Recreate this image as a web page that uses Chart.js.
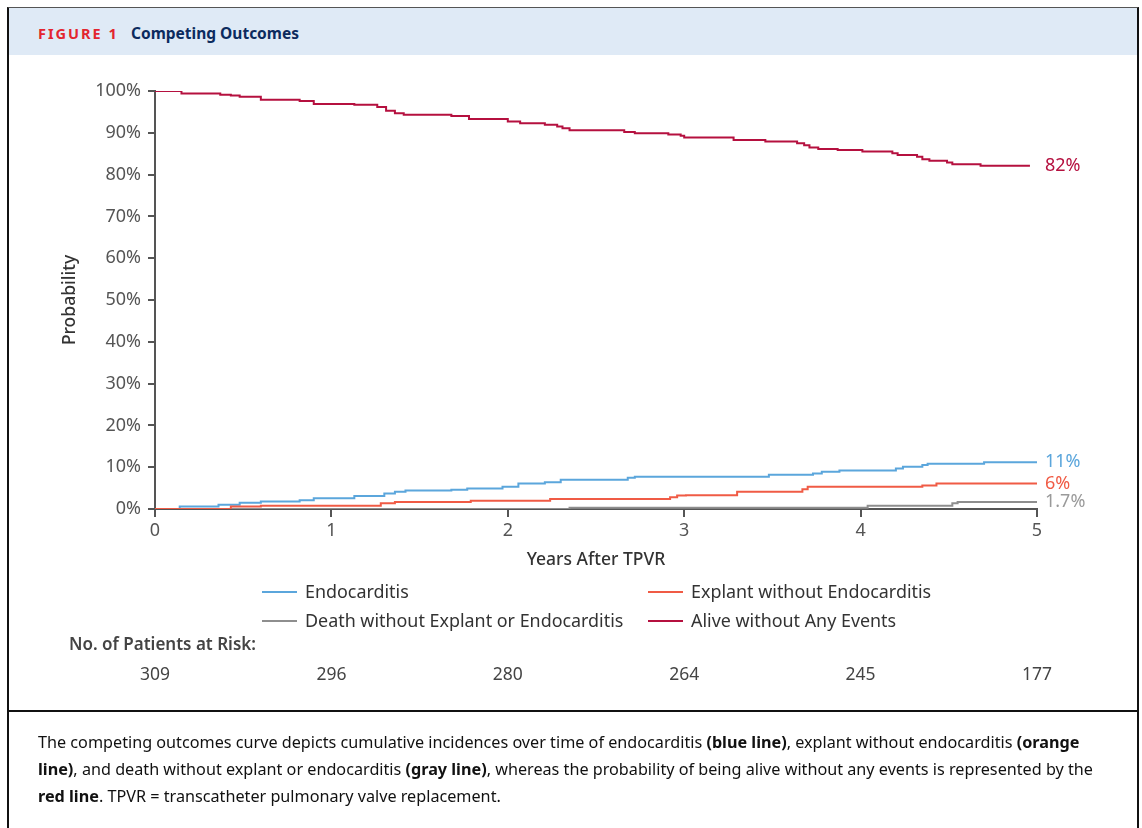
<!DOCTYPE html>
<html>
<head>
<meta charset="utf-8">
<script src="https://cdn.jsdelivr.net/npm/chart.js@4"></script>
<style>
html,body{margin:0;padding:0;background:#fff;width:1142px;height:828px;overflow:hidden;font-family:"Noto Sans",sans-serif;}
#frame{position:absolute;left:7px;top:7px;width:1132px;height:900px;border-left:2px solid #111;border-right:2px solid #111;border-top:1px solid #555;box-sizing:border-box;}
#header{position:absolute;left:9px;top:8px;width:1128px;height:47px;background:#dfeaf6;}
#header .fig{position:absolute;left:29px;top:15px;font-size:14.5px;font-weight:700;color:#e3252f;letter-spacing:2px;}
#header .ttl{position:absolute;left:122px;top:14px;font-size:15.5px;font-weight:700;color:#0c2b5e;}
#sep{position:absolute;left:8px;top:710px;width:1130px;height:2px;background:#111;}
#caption{position:absolute;left:38px;top:729px;width:1070px;font-size:16.2px;line-height:27px;color:#111;}
#caption b{font-weight:700;}
canvas#c{position:absolute;left:0;top:0;}
.leg{position:absolute;font-size:17.9px;color:#333;white-space:nowrap;}
.leg i{position:absolute;left:0;top:12px;width:35px;height:2px;}
.leg span{position:absolute;left:43px;top:0;}
#risk{position:absolute;left:69px;top:632px;font-size:17px;font-weight:600;color:#444;}
</style>
</head>
<body>
<div id="frame"></div>
<div id="header"><span class="fig">FIGURE 1</span><span class="ttl">Competing Outcomes</span></div>
<canvas id="c" width="1142" height="828"></canvas>
<div id="legend"></div>
<div id="risk">No. of Patients at Risk:</div>
<div id="sep"></div>
<div id="caption">The competing outcomes curve depicts cumulative incidences over time of endocarditis <b>(blue line)</b>, explant without endocarditis <b>(orange line)</b>, and death without explant or endocarditis <b>(gray line)</b>, whereas the probability of being alive without any events is represented by the <b>red line</b>. TPVR = transcatheter pulmonary valve replacement.</div>
<script>
// ---- data ----
const seriesNames = ["Endocarditis", "Explant without Endocarditis", "Death without Explant or Endocarditis", "Alive without Any Events"];

const endoTimes  = [0, 0.14, 0.36, 0.48, 0.6, 0.82, 0.9, 1.13, 1.3, 1.36, 1.42, 1.68, 1.77, 1.97, 2.06, 2.21, 2.3, 2.68, 2.72, 3.48, 3.73, 3.78, 3.88, 4.2, 4.24, 4.35, 4.38, 4.7, 5];
const endoValues = [0, 0.6, 1.0, 1.5, 1.8, 2.1, 2.6, 3.1, 3.7, 4.1, 4.4, 4.6, 4.9, 5.3, 6.1, 6.4, 7.0, 7.5, 7.7, 8.2, 8.5, 8.9, 9.2, 9.7, 10.1, 10.5, 10.8, 11.2, 11.2];

const explTimes  = [0, 0.43, 0.6, 1.28, 1.36, 1.79, 2.24, 2.92, 2.96, 3.01, 3.3, 3.67, 3.7, 4.35, 4.43, 5];
const explValues = [0, 0.6, 0.8, 1.4, 1.7, 2.0, 2.4, 2.8, 3.2, 3.3, 4.1, 4.7, 5.3, 5.6, 6.1, 6.1];

const deathTimes  = [0, 2.35, 4.04, 4.52, 4.55, 5];
const deathValues = [0, 0.3, 0.8, 1.4, 1.7, 1.7];

const aliveTimes  = [0, 0.15, 0.37, 0.43, 0.48, 0.6, 0.82, 0.9, 1.13, 1.26, 1.31, 1.36, 1.41, 1.68, 1.78, 2.0, 2.07, 2.21, 2.28, 2.31, 2.35, 2.66, 2.72, 2.91, 2.98, 3.0, 3.28, 3.46, 3.64, 3.68, 3.71, 3.76, 3.87, 4.01, 4.18, 4.21, 4.32, 4.35, 4.39, 4.49, 4.52, 4.68, 4.96];
const aliveValues = [100, 99.4, 99.1, 98.9, 98.6, 97.9, 97.6, 96.9, 96.7, 96.2, 95.3, 94.7, 94.3, 94.0, 93.3, 92.7, 92.3, 91.9, 91.5, 91.1, 90.6, 90.2, 89.9, 89.6, 89.3, 88.9, 88.3, 87.9, 87.5, 87.0, 86.5, 86.1, 85.9, 85.5, 85.1, 84.7, 84.3, 83.7, 83.3, 82.9, 82.5, 82.1, 82.1];

const endLabels = ["11%", "6%", "1.7%", "82%"];
const yTickValues = [0, 10, 20, 30, 40, 50, 60, 70, 80, 90, 100];
const riskYears  = [0, 1, 2, 3, 4, 5];
const riskCounts = [309, 296, 280, 264, 245, 177];

// ---- styles ----
const colors = ["#5ba6dc", "#f05b45", "#8e8e8e", "#b5103f"];
const labelColors = ["#5ba6dc", "#f05b45", "#9a9a9a", "#b5103f"];
const FONT = '"Noto Sans", sans-serif';

function pts(t, v){ return t.map((x,i)=>({x:x, y:v[i]})); }
const allSeries = [pts(endoTimes,endoValues), pts(explTimes,explValues), pts(deathTimes,deathValues), pts(aliveTimes,aliveValues)];

// HTML legend
const legendPos = [[262,579],[648,579],[262,608],[648,608]];
const legend = document.getElementById('legend');
seriesNames.forEach((n,i)=>{
  const d = document.createElement('div');
  d.className='leg';
  d.style.left = legendPos[i][0]+'px';
  d.style.top = legendPos[i][1]+'px';
  d.innerHTML = '<i style="background:'+colors[i]+'"></i><span>'+n+'</span>';
  legend.appendChild(d);
});

const overlay = {
  id:'overlay',
  afterDatasetsDraw(chart){
    const {ctx, scales:{x, y}} = chart;
    ctx.save();
    ctx.font = '18px ' + FONT;
    ctx.textBaseline = 'middle';
    ctx.textAlign = 'left';
    chart.data.datasets.forEach((ds,i)=>{
      const last = ds.data[ds.data.length-1];
      ctx.fillStyle = labelColors[i];
      ctx.fillText(endLabels[i], x.getPixelForValue(5)+8, y.getPixelForValue(last.y));
    });
    ctx.font = '17.5px ' + FONT;
    ctx.fillStyle = '#444';
    ctx.textAlign = 'center';
    riskYears.forEach((yr,i)=>{
      ctx.fillText(String(riskCounts[i]), x.getPixelForValue(yr), 675);
    });
    ctx.restore();
  }
};

new Chart(document.getElementById('c'), {
  type:'line',
  data:{
    datasets: allSeries.map((d,i)=>({
      label: seriesNames[i],
      data: d,
      borderColor: colors[i],
      backgroundColor: colors[i],
      borderWidth: 2,
      pointRadius: 0,
      stepped: true,
      fill: false,
      order: i===2 ? 5 : (3-i)
    }))
  },
  options:{
    responsive:false,
    animation:false,
    events:[],
    layout:{padding:{left:56, right:105, top:91, bottom:253}},
    plugins:{legend:{display:false}, tooltip:{enabled:false}},
    scales:{
      x:{
        type:'linear', min:0, max:5,
        afterFit(s){ s.height = 66; },
        ticks:{stepSize:1, color:'#555', font:{size:18, family:FONT}, padding:3},
        grid:{drawOnChartArea:false, drawTicks:true, tickLength:8, color:'#555', lineWidth:2},
        border:{color:'#555', width:2},
        title:{display:true, text:'Years After TPVR', color:'#333', font:{size:17.5, family:FONT, weight:'500'}, padding:{top:4, bottom:4}}
      },
      y:{
        type:'linear', min:0, max:100,
        afterFit(s){ s.width = 99; },
        afterBuildTicks(s){ s.ticks = yTickValues.map(v=>({value:v})); },
        ticks:{color:'#555', font:{size:18, family:FONT}, padding:7, callback:v=>v+'%'},
        grid:{drawOnChartArea:false, drawTicks:true, tickLength:7, color:'#555', lineWidth:2},
        border:{color:'#555', width:2},
        title:{display:true, text:'Probability', color:'#333', font:{size:17.5, family:FONT, weight:'500'}, padding:{top:4, bottom:4}}
      }
    }
  },
  plugins:[overlay]
});
</script>
</body>
</html>
